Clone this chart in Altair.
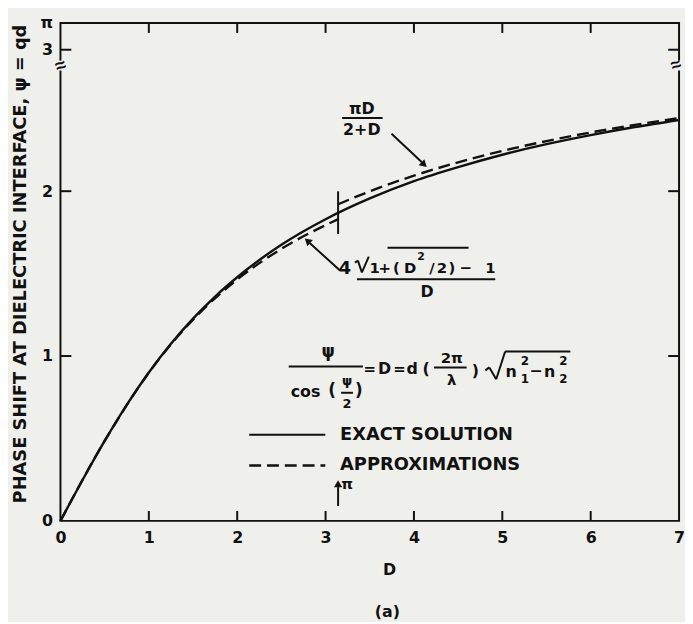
import altair as alt
import pandas as pd

# ---------------- data ----------------
D_exact = [0.0, 0.25, 0.5, 0.75, 1.0, 1.25, 1.5, 1.75, 2.0, 2.5, 3.0, 3.5, 4.0, 4.5, 5.0, 5.5, 6.0, 6.5, 7.0]
psi_exact = [0.0, 0.248, 0.485, 0.704, 0.900, 1.074, 1.227, 1.361, 1.478, 1.675, 1.830, 1.956, 2.061, 2.146, 2.221, 2.285, 2.340, 2.389, 2.432]

D_small = [0.0, 0.5, 1.0, 1.5, 2.0, 2.5, 3.0, 3.14]
psi_small = [0.0, 0.485, 0.899, 1.221, 1.464, 1.650, 1.794, 1.829]

D_large = [3.14, 3.5, 4.0, 4.5, 5.0, 5.5, 6.0, 6.5, 7.0]
psi_large = [1.920, 1.999, 2.094, 2.175, 2.244, 2.304, 2.356, 2.402, 2.443]

x_tick_vals = [0, 1, 2, 3, 4, 5, 6, 7]
y_tick_vals = [0, 1, 2, 2.858, 3.02]
y_tick_text = ["0", "1", "2", "3", "π"]
inner_x_ticks = [1, 2, 3, 4, 5, 6]
inner_y_ticks = [1, 2, 2.858]
axis_break_psi = 2.762

BG = "#efefec"
INK = "#111111"
FONT = "DejaVu Sans"

W, H = 625, 503
xs = alt.Scale(domain=[0, 7], nice=False, zero=False)
ys = alt.Scale(domain=[0, 3.02], nice=False, zero=False)

exact_df = pd.DataFrame({"D": D_exact, "psi": psi_exact})
approx_df = pd.concat([
    pd.DataFrame({"D": D_small, "psi": psi_small, "seg": "small"}),
    pd.DataFrame({"D": D_large, "psi": psi_large, "seg": "large"}),
])

label_expr = " : ".join(
    [f"datum.value == {v} ? '{t}'" for v, t in zip(y_tick_vals, y_tick_text)]
) + " : ''"

exact = alt.Chart(exact_df).mark_line(color=INK, strokeWidth=2.4, interpolate="monotone").encode(
    x=alt.X("D:Q", scale=xs,
            axis=alt.Axis(values=x_tick_vals, format="d", ticks=False, domain=False, grid=False,
                          labelFont=FONT, labelFontSize=16, labelFontWeight="bold",
                          labelColor=INK, labelPadding=9, labelFlush=False,
                          title="D", titleFont=FONT, titleFontSize=16, titleFontWeight="bold",
                          titleColor=INK, titleX=332, titleY=49, titleAlign="center",
                          titleBaseline="middle")),
    y=alt.Y("psi:Q", scale=ys,
            axis=alt.Axis(values=y_tick_vals, labelExpr=label_expr, ticks=False, domain=False,
                          grid=False, labelFont=FONT, labelFontSize=16, labelFontWeight="bold",
                          labelColor=INK, labelPadding=8, labelOverlap=False,
                          title="PHASE SHIFT AT DIELECTRIC INTERFACE,  ψ = qd",
                          titleFont=FONT, titleFontSize=18, titleFontWeight="bold",
                          titleColor=INK, titleX=-40, titleY=243, titleAngle=-90,
                          titleAlign="center", titleBaseline="middle")),
)

approx = alt.Chart(approx_df).mark_line(color=INK, strokeWidth=2.4, strokeDash=[12, 6],
                                        interpolate="monotone").encode(
    x=alt.X("D:Q", scale=xs), y=alt.Y("psi:Q", scale=ys), detail="seg:N")

# inward ticks
xt = pd.DataFrame({"v": inner_x_ticks})
yt = pd.DataFrame({"v": inner_y_ticks})
tick_b = alt.Chart(xt).mark_rule(color=INK, strokeWidth=2).encode(
    x=alt.X("v:Q", scale=xs), y=alt.value(H), y2=alt.value(H - 10))
tick_t = alt.Chart(xt).mark_rule(color=INK, strokeWidth=2).encode(
    x=alt.X("v:Q", scale=xs), y=alt.value(0), y2=alt.value(10))
tick_l = alt.Chart(yt).mark_rule(color=INK, strokeWidth=2).encode(
    y=alt.Y("v:Q", scale=ys), x=alt.value(0), x2=alt.value(11))
tick_r = alt.Chart(yt).mark_rule(color=INK, strokeWidth=2).encode(
    y=alt.Y("v:Q", scale=ys), x=alt.value(W), x2=alt.value(W - 11))

# axis breaks
brk = pd.DataFrame({"lo": [axis_break_psi - 0.03], "hi": [axis_break_psi + 0.03], "psi": [axis_break_psi]})
mask_l = alt.Chart(brk).mark_rect(color=BG).encode(
    y=alt.Y("lo:Q", scale=ys), y2="hi:Q", x=alt.value(-5), x2=alt.value(5))
mask_r = alt.Chart(brk).mark_rect(color=BG).encode(
    y=alt.Y("lo:Q", scale=ys), y2="hi:Q", x=alt.value(W - 5), x2=alt.value(W + 5))
brk_l = alt.Chart(brk).mark_text(text="≈", fontSize=19, fontWeight="bold", color=INK,
                                 baseline="middle", align="center", angle=340).encode(
    y=alt.Y("psi:Q", scale=ys), x=alt.value(0))
brk_r = alt.Chart(brk).mark_text(text="≈", fontSize=18, fontWeight="bold", color=INK,
                                 baseline="middle", align="center", angle=340).encode(
    y=alt.Y("psi:Q", scale=ys), x=alt.value(W - 3))

# annotation line segments (fraction bars, radicals, markers, arrow shafts)
segs = pd.DataFrame([
    # x, x2, y, y2
    (3.187, 3.645, 2.444, 2.444),   # piD / (2+D) bar
    (3.332, 3.366, 1.567, 1.579),   # radical hook
    (3.366, 3.411, 1.579, 1.507),
    (3.411, 3.489, 1.507, 1.603),
    (3.701, 4.618, 1.657, 1.657),   # radical overline
    (3.355, 4.920, 1.465, 1.465),   # big fraction bar
    (2.583, 3.422, 0.937, 0.937),   # psi / cos bar
    (3.176, 3.310, 0.777, 0.777),   # psi/2 bar
    (4.227, 4.596, 0.931, 0.931),   # 2pi / lambda bar
    (4.808, 4.853, 0.913, 0.931),   # radical hook
    (4.853, 4.931, 0.931, 0.859),
    (4.931, 5.032, 0.859, 1.027),
    (5.032, 5.770, 1.027, 1.027),   # radical overline
    (3.14159, 3.14159, 1.741, 1.999),
    (3.14159, 3.14159, 0.09, 0.205),
    (3.746, 4.090, 2.348, 2.175),
    (3.164, 2.820, 1.519, 1.685),
    (2.136, 2.997, 0.522, 0.522),
], columns=["x", "x2", "y", "y2"])
seg_layer = alt.Chart(segs).mark_rule(color=INK, strokeWidth=2).encode(
    x=alt.X("x:Q", scale=xs), x2="x2:Q", y=alt.Y("y:Q", scale=ys), y2="y2:Q")

dash_leg = pd.DataFrame({"x": [2.136], "x2": [2.997], "y": [0.336]})
dash_layer = alt.Chart(dash_leg).mark_rule(color=INK, strokeWidth=2.4, strokeDash=[12, 6]).encode(
    x=alt.X("x:Q", scale=xs), x2="x2:Q", y=alt.Y("y:Q", scale=ys))

heads = pd.DataFrame({"x": [4.115, 2.795, 3.14159], "y": [2.161, 1.699, 0.225], "ang": [133, 312, 0]})
head_layer = alt.Chart(heads).mark_point(shape="triangle-up", filled=True, color=INK, opacity=1,
                                         size=70).encode(
    x=alt.X("x:Q", scale=xs), y=alt.Y("y:Q", scale=ys), angle=alt.Angle("ang:Q", scale=None))

# texts
txt_c = pd.DataFrame([
    ("πD", 3.41, 2.500, 16),
    ("2+D", 3.41, 2.372, 16),
    ("4", 3.220, 1.525, 18),
    ("1", 3.556, 1.531, 15),
    ("+", 3.668, 1.531, 15),
    ("(", 3.802, 1.531, 15),
    ("D", 3.958, 1.531, 15),
    ("2", 4.081, 1.600, 11),
    ("/", 4.204, 1.531, 15),
    ("2", 4.316, 1.531, 15),
    (")", 4.428, 1.531, 15),
    ("−", 4.585, 1.531, 15),
    ("1", 4.864, 1.531, 15),
    ("D", 4.148, 1.387, 16),
    ("ψ", 3.03, 1.027, 17),
    ("cos", 2.773, 0.780, 16),
    ("(", 3.075, 0.785, 17),
    (")", 3.377, 0.785, 17),
    ("ψ", 3.243, 0.846, 13),
    ("2", 3.243, 0.708, 13),
    ("=", 3.500, 0.919, 15),
    ("D", 3.668, 0.919, 16),
    ("=", 3.835, 0.919, 15),
    ("d", 3.981, 0.919, 16),
    ("(", 4.137, 0.919, 16),
    ("2π", 4.428, 0.985, 15),
    ("λ", 4.428, 0.852, 15),
    (")", 4.696, 0.907, 16),
    ("n", 5.099, 0.900, 16),
    ("2", 5.256, 0.967, 12),
    ("1", 5.256, 0.858, 12),
    ("−", 5.379, 0.907, 16),
    ("n", 5.535, 0.900, 16),
    ("2", 5.692, 0.967, 12),
    ("2", 5.692, 0.858, 12),
    ("π", 3.243, 0.225, 15),
    ("(a)", 3.70, -0.552, 16),
], columns=["t", "x", "y", "s"])
txt_l = pd.DataFrame([
    ("EXACT SOLUTION", 3.164, 0.522, 18),
    ("APPROXIMATIONS", 3.164, 0.336, 18),
], columns=["t", "x", "y", "s"])

text_c = alt.Chart(txt_c).mark_text(font=FONT, fontWeight="bold", color=INK, align="center",
                                    baseline="middle").encode(
    x=alt.X("x:Q", scale=xs), y=alt.Y("y:Q", scale=ys), text="t:N",
    size=alt.Size("s:Q", scale=None))
text_l = alt.Chart(txt_l).mark_text(font=FONT, fontWeight="bold", color=INK, align="left",
                                    baseline="middle").encode(
    x=alt.X("x:Q", scale=xs), y=alt.Y("y:Q", scale=ys), text="t:N",
    size=alt.Size("s:Q", scale=None))

chart = alt.layer(
    exact, approx, tick_b, tick_t, tick_l, tick_r,
    mask_l, mask_r, brk_l, brk_r,
    seg_layer, dash_layer, head_layer, text_c, text_l,
).properties(
    width=W, height=H,
    autosize=alt.AutoSizeParams(type="none"),
    padding={"left": 53, "top": 12, "right": 6, "bottom": 99},
    background=BG,
).configure_view(
    stroke=INK, strokeWidth=2, fill=BG,
)

chart.save("out.html", embed_options={"renderer": "svg", "actions": False})
